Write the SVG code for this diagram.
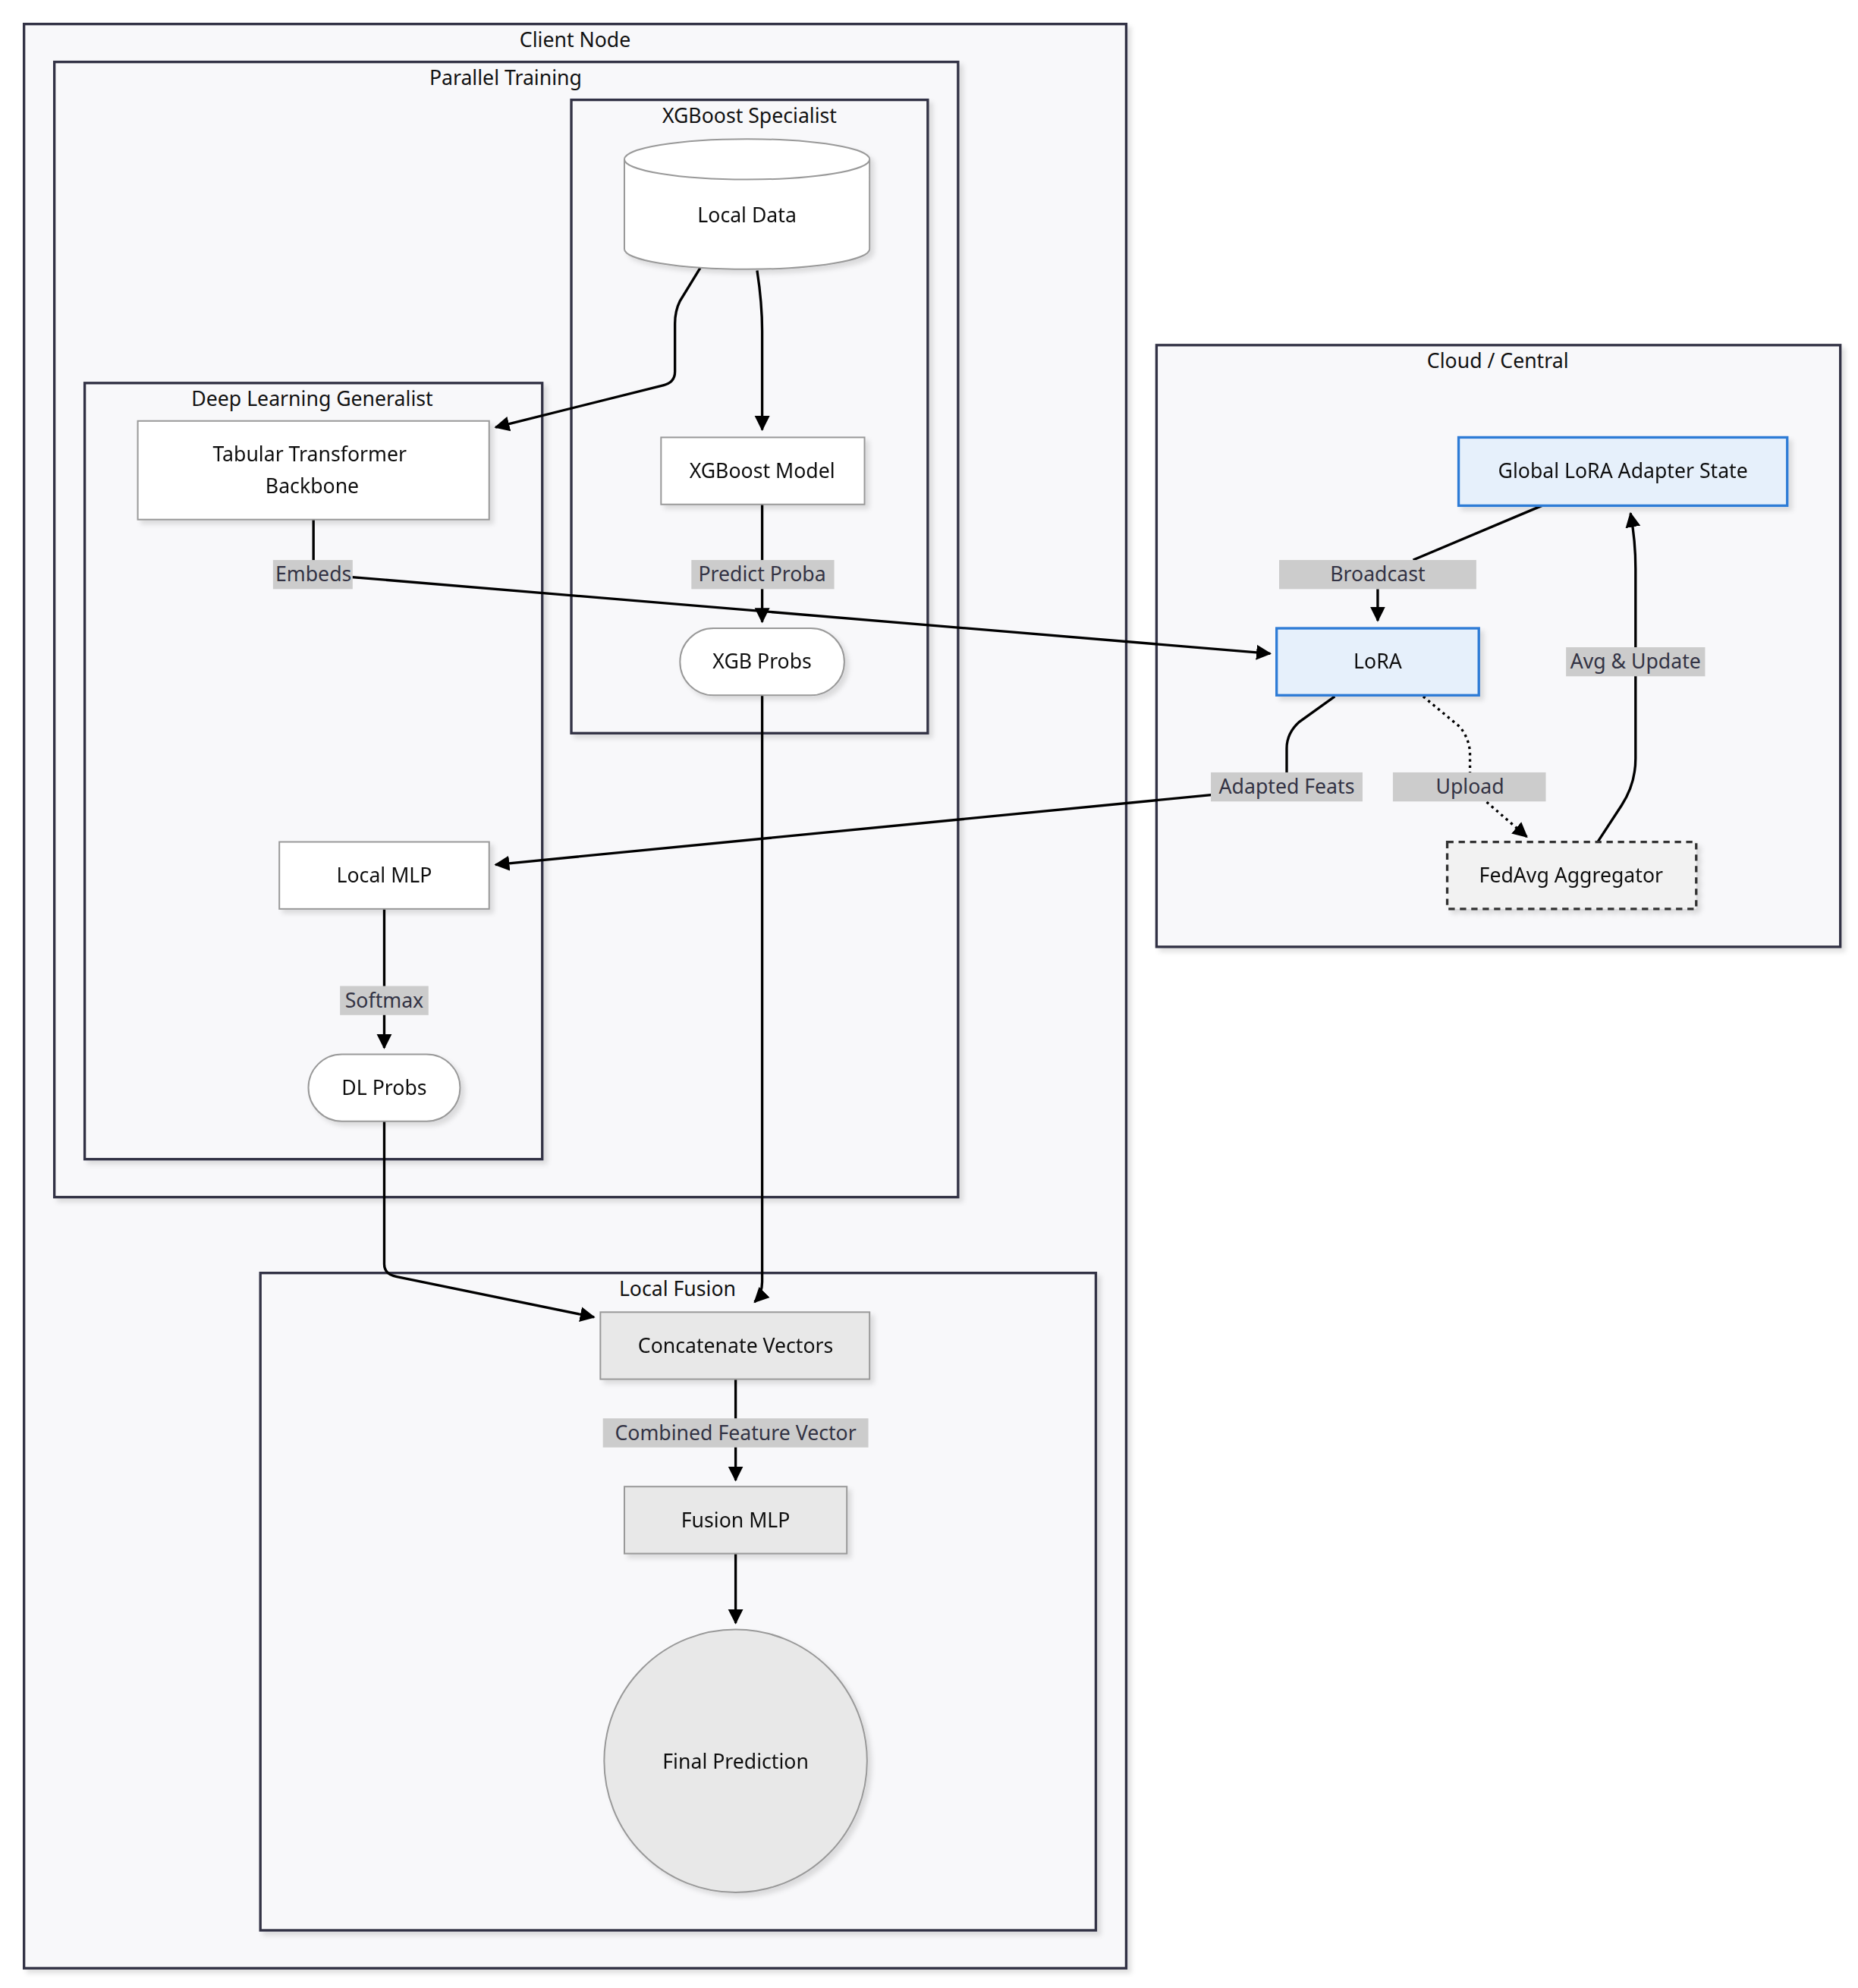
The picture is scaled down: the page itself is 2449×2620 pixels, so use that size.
<svg xmlns="http://www.w3.org/2000/svg" width="2449" height="2620" viewBox="0 0 2449 2620">
<style>
.cl{fill:#f8f8fa;stroke:#333344;stroke-width:2}
.ct{font-family:"Noto Sans","Liberation Sans",sans-serif;font-size:16px;fill:#111;text-anchor:middle}
.nd{fill:#fff;stroke:#999;stroke-width:1.2}
.gr{fill:#e8e8e8;stroke:#999;stroke-width:1.2}
.bl{fill:#e6f0fb;stroke:#2f7bd6;stroke-width:2}
.nt{font-family:"Noto Sans","Liberation Sans",sans-serif;font-size:16px;fill:#111;text-anchor:middle;dominant-baseline:central}
.lb{fill:#cccccc}
.lt{font-family:"Noto Sans","Liberation Sans",sans-serif;font-size:16px;fill:#333344;text-anchor:middle;dominant-baseline:central}
.e{fill:none;stroke:#000;stroke-width:2}
.d{stroke-dasharray:2,3}
</style>
<defs>
<marker id="ah" markerWidth="14" markerHeight="14" refX="11" refY="6" orient="auto" markerUnits="userSpaceOnUse" viewBox="0 0 14 12"><path d="M0,0 L12,6 L0,12 z" fill="#000"/></marker>
<filter id="sh" x="-10%" y="-10%" width="130%" height="130%"><feDropShadow dx="3" dy="3" stdDeviation="2" flood-color="#000" flood-opacity="0.12"/></filter>
</defs>
<rect width="2449" height="2620" fill="#fff"/>
<g transform="scale(1.666)">
<g id="clusters">
<g id="client-node"><rect class="cl" x="19" y="19" width="872" height="1538" filter="url(#sh)"/><text class="ct" x="455" y="37">Client Node</text></g>
<g id="parallel-training"><rect class="cl" x="43" y="49" width="715" height="898" filter="url(#sh)"/><text class="ct" x="400" y="67">Parallel Training</text></g>
<g id="xgboost-specialist"><rect class="cl" x="452" y="79" width="282" height="501" filter="url(#sh)"/><text class="ct" x="593" y="97">XGBoost Specialist</text></g>
<g id="dl-generalist"><rect class="cl" x="67" y="303" width="362" height="614" filter="url(#sh)"/><text class="ct" x="247" y="321">Deep Learning Generalist</text></g>
<g id="local-fusion"><rect class="cl" x="206" y="1007" width="661" height="520" filter="url(#sh)"/><text class="ct" x="536" y="1025">Local Fusion</text></g>
<g id="cloud-central"><rect class="cl" x="915" y="273" width="541" height="476" filter="url(#sh)"/><text class="ct" x="1185" y="291">Cloud / Central</text></g>
</g>
<g id="connectors">
<path class="e" d="M554,212 L538,238 Q534,246 534,256 L534,294 Q534,303 524,305 L392,338" marker-end="url(#ah)"/>
<path class="e" d="M599,214 Q603,240 603,262 L603,340" marker-end="url(#ah)"/>
<path class="e" d="M603,399 L603,492" marker-end="url(#ah)"/>
<path class="e" d="M248,411 L248,454 L1005,517" marker-end="url(#ah)"/>
<path class="e" d="M603,550 L603,1014 Q603,1024 597,1030" marker-end="url(#ah)"/>
<path class="e" d="M1220,400 L1118,443 M1090,466 L1090,491" marker-end="url(#ah)"/>
<path class="e" d="M1056,551 L1028,571 Q1018,580 1018,592 L1018,623 L392,684" marker-end="url(#ah)"/>
<path class="e d" d="M1126,551 L1155,575 Q1163,585 1163,597 L1163,623 L1208,662" marker-end="url(#ah)"/>
<path class="e" d="M1264,666 L1283,637 Q1294,620 1294,600 L1294,450 Q1294,428 1290,406" marker-end="url(#ah)"/>
<path class="e" d="M304,719 L304,829" marker-end="url(#ah)"/>
<path class="e" d="M304,887 L304,1000 Q304,1008 314,1010 L470,1042" marker-end="url(#ah)"/>
<path class="e" d="M582,1091 L582,1171" marker-end="url(#ah)"/>
<path class="e" d="M582,1229 L582,1284" marker-end="url(#ah)"/>
<g id="edge-labels">
<rect class="lb" x="547" y="443" width="113" height="23"/><text class="lt" x="603" y="454">Predict Proba</text>
<rect class="lb" x="216" y="443" width="63" height="23"/><text class="lt" x="248" y="454">Embeds</text>
<rect class="lb" x="1012" y="443" width="156" height="23"/><text class="lt" x="1090" y="454">Broadcast</text>
<rect class="lb" x="958" y="611" width="120" height="23"/><text class="lt" x="1018" y="622">Adapted Feats</text>
<rect class="lb" x="1102" y="611" width="121" height="23"/><text class="lt" x="1163" y="622">Upload</text>
<rect class="lb" x="1239" y="512" width="110" height="23"/><text class="lt" x="1294" y="523">Avg &amp; Update</text>
<rect class="lb" x="269" y="780" width="70" height="23"/><text class="lt" x="304" y="791">Softmax</text>
<rect class="lb" x="477" y="1122" width="210" height="23"/><text class="lt" x="582" y="1133">Combined Feature Vector</text>
</g>
</g>
<g id="local-data" filter="url(#sh)"><path class="nd" d="M494,126 L494,197 A97,16 0 0 0 688,197 L688,126 A97,16 0 0 0 494,126 A97,16 0 0 0 688,126"/><text class="nt" x="591" y="170">Local Data</text></g>
<g id="xgboost-model" filter="url(#sh)"><rect class="nd" x="523" y="346" width="161" height="53"/><text class="nt" x="603" y="372">XGBoost Model</text></g>
<g id="xgb-probs" filter="url(#sh)"><rect class="nd" x="538" y="497" width="130" height="53" rx="26.5"/><text class="nt" x="603" y="523">XGB Probs</text></g>
<g id="tabular-transformer" filter="url(#sh)"><rect class="nd" x="109" y="333" width="278" height="78"/><text class="nt" x="245" y="359">Tabular Transformer</text><text class="nt" x="247" y="384">Backbone</text></g>
<g id="local-mlp" filter="url(#sh)"><rect class="nd" x="221" y="666" width="166" height="53"/><text class="nt" x="304" y="692">Local MLP</text></g>
<g id="dl-probs" filter="url(#sh)"><rect class="nd" x="244" y="834" width="120" height="53" rx="26.5"/><text class="nt" x="304" y="860">DL Probs</text></g>
<g id="concatenate-vectors" filter="url(#sh)"><rect class="gr" x="475" y="1038" width="213" height="53"/><text class="nt" x="582" y="1064">Concatenate Vectors</text></g>
<g id="fusion-mlp" filter="url(#sh)"><rect class="gr" x="494" y="1176" width="176" height="53"/><text class="nt" x="582" y="1202">Fusion MLP</text></g>
<g id="final-prediction" filter="url(#sh)"><circle class="gr" cx="582" cy="1393" r="104"/><text class="nt" x="582" y="1393">Final Prediction</text></g>
<g id="global-lora" filter="url(#sh)"><rect class="bl" x="1154" y="346" width="260" height="54"/><text class="nt" x="1284" y="372">Global LoRA Adapter State</text></g>
<g id="lora" filter="url(#sh)"><rect class="bl" x="1010" y="497" width="160" height="53"/><text class="nt" x="1090" y="523">LoRA</text></g>
<g id="fedavg" filter="url(#sh)"><rect x="1145" y="666" width="197" height="53" fill="#f2f2f2" stroke="#333" stroke-width="2" stroke-dasharray="5,4"/><text class="nt" x="1243" y="692">FedAvg Aggregator</text></g>
</g>
</svg>
